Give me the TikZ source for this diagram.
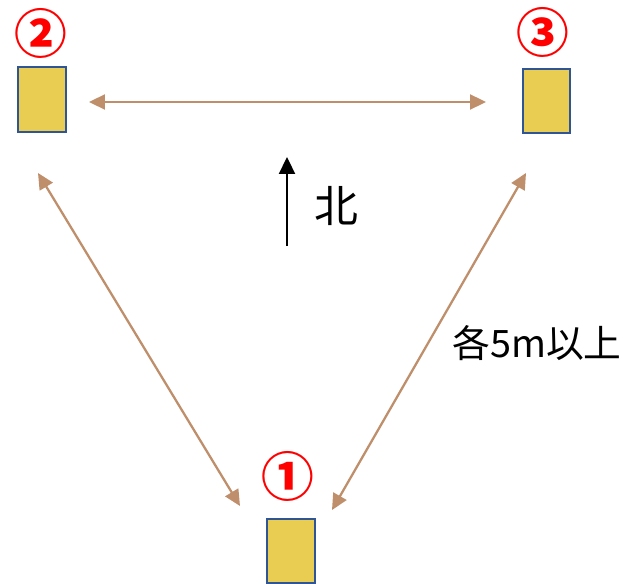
\documentclass[tikz,border=0pt]{standalone}
\usepackage{fontspec}
\setmainfont{Noto Sans CJK JP}
\usetikzlibrary{arrows.meta,positioning}
\definecolor{LinkBrown}{HTML}{BF8F6C}
\definecolor{BoxGold}{HTML}{E9CD52}
\definecolor{EdgeBlue}{HTML}{2F5597}
\definecolor{MarkRed}{HTML}{FF0000}
\begin{document}
\begin{tikzpicture}[x=0.02cm, y=-0.02cm, every node/.style={inner sep=0pt}]
  \tikzstyle{spot}=[rectangle, draw=EdgeBlue, line width=1.4pt, fill=BoxGold,
  minimum width=0.95cm, minimum height=1.29cm]
  \tikzstyle{numlabel}=[text=MarkRed, font=\fontsize{30}{30}\selectfont\bfseries]
  \tikzstyle{link}=[{Triangle[length=0.32cm, width=0.3cm]}-{Triangle[length=0.32cm, width=0.3cm]},
  line width=1.3pt, color=LinkBrown]
  \useasboundingbox (0,0) rectangle (625,584);
  % stations
  \node[spot] (box2) at (42,99.5) {};
  \node[spot] (box3) at (546.5,101) {};
  \node[spot] (box1) at (291,551) {};
  \node[numlabel] (lbl2) at (41,33) {②};
  \node[numlabel] (lbl3) at (543,32) {③};
  \node[numlabel] (lbl1) at (288,476) {①};
  % arrow ends
  \coordinate (h2) at (89,102);
  \coordinate (h3) at (486,102);
  \coordinate (d2) at (38,173);
  \coordinate (d1a) at (240,506);
  \coordinate (d3) at (526,173);
  \coordinate (d1b) at (332,510);
  \draw[link] (h2) -- (h3);
  \draw[link] (d2) -- (d1a);
  \draw[link] (d3) -- (d1b);
  % north
  \coordinate (nS) at (287,246);
  \coordinate (nN) at (287,157);
  \draw[-{Triangle[length=0.34cm, width=0.32cm]}, line width=1.3pt] (nS) -- (nN);
  \node[font=\fontsize{25}{25}\selectfont] (north) at (336,206) {北};
  \node[font=\fontsize{21.5}{21.5}\selectfont] (dist) at (537,343) {各5m以上};
\end{tikzpicture}
\end{document}
